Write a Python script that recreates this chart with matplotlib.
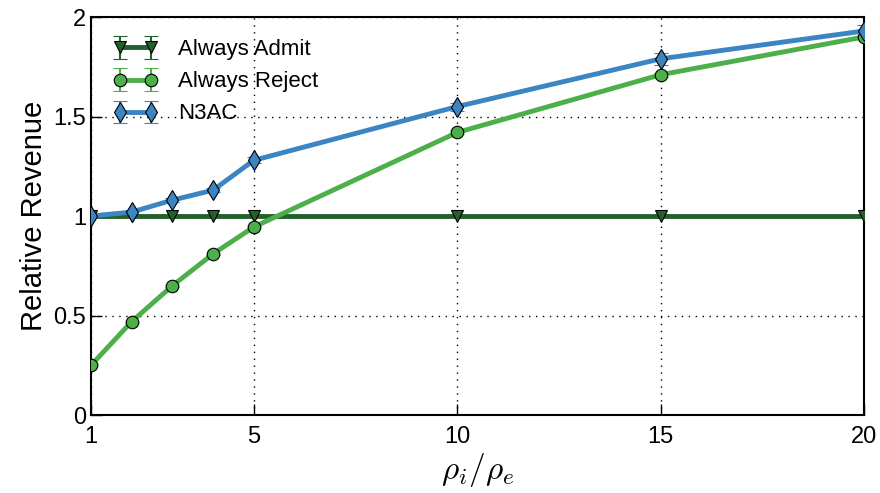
import matplotlib
matplotlib.use("Agg")
import matplotlib.pyplot as plt

plt.rcParams['font.family'] = ['Liberation Sans', 'DejaVu Sans']
plt.rcParams['mathtext.fontset'] = 'cm'

x = [1, 2, 3, 4, 5, 10, 15, 20]
admit = [1.0, 1.0, 1.0, 1.0, 1.0, 1.0, 1.0, 1.0]
admit_err = [0.005] * 8
reject = [0.25, 0.47, 0.65, 0.81, 0.945, 1.42, 1.71, 1.90]
reject_err = [0.005, 0.005, 0.005, 0.005, 0.005, 0.01, 0.01, 0.01]
n3ac = [1.0, 1.02, 1.08, 1.13, 1.28, 1.55, 1.79, 1.93]
n3ac_err = [0.005, 0.01, 0.01, 0.01, 0.015, 0.02, 0.03, 0.03]

fig = plt.figure(figsize=(8.8, 4.93), dpi=100)
ax = fig.add_axes([0.1034, 0.158, 0.8786, 0.8075])

common = dict(mec='black', mew=0.8, lw=3.5, capsize=5, capthick=1.5,
              elinewidth=1.5, zorder=3)
ax.errorbar(x, admit, yerr=admit_err, color='#24612a', marker='v', ms=9,
            label='Always Admit', **common)
ax.errorbar(x, reject, yerr=reject_err, color='#4daf4a', marker='o', ms=9,
            label='Always Reject', **common)
ax.errorbar(x, n3ac, yerr=n3ac_err, color='#3a85c2', marker='d', ms=10,
            label='N3AC', **common)

ax.set_xlim(1, 20)
ax.set_ylim(0, 2)
ax.set_xticks([1, 5, 10, 15, 20])
ax.set_xticklabels(['1', '5', '10', '15', '20'])
ax.set_yticks([0, 0.5, 1, 1.5, 2])
ax.set_yticklabels(['0', '0.5', '1', '1.5', '2'])
ax.tick_params(direction='in', labelsize=17, length=8, width=1, top=False, right=False)
ax.tick_params(axis='x', pad=8)
ax.grid(True, color='black', linestyle=(0, (1, 4)), linewidth=1)
for s in ax.spines.values():
    s.set_linewidth(1.5)

ax.set_xlabel(r'$\rho_i/\rho_e$', fontsize=24, labelpad=2)
ax.set_ylabel('Relative Revenue', fontsize=21)

leg = ax.legend(loc='upper left', frameon=False, fontsize=16, handlelength=2.0,
                numpoints=2, handletextpad=0.9, borderaxespad=0.6,
                labelspacing=0.5)

fig.savefig('out.png', dpi=100)
